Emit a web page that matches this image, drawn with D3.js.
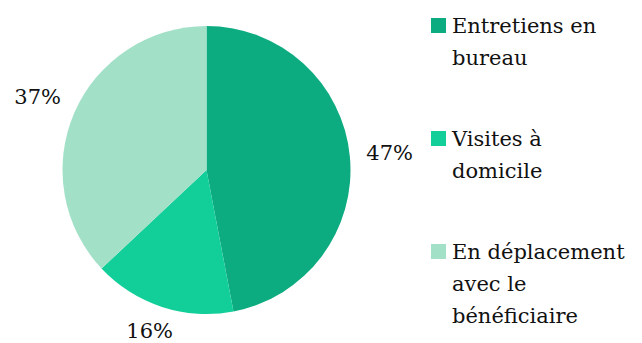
<!DOCTYPE html>
<html><head><meta charset="utf-8">
<script src="https://cdn.jsdelivr.net/npm/d3@7"></script>
<style>html,body{margin:0;padding:0;background:#fff;overflow:hidden}</style>
</head><body>
<svg id="chart" width="642" height="343"></svg>
<script>
const categories = ["Entretiens en bureau", "Visites à domicile", "En déplacement avec le bénéficiaire"];
const legendLines = [["Entretiens en", "bureau"], ["Visites à", "domicile"], ["En déplacement", "avec le", "bénéficiaire"]];
const values = [47, 16, 37];
const labels = ["47%", "16%", "37%"];
const colors = ["#0DAB80", "#12CF9A", "#A3E0C8"];

const svg = d3.select("#chart");
const font = "DejaVu Serif, Liberation Serif, Noto Serif, serif";
const cx = 206.5, cy = 170, R = 144;

const pie = d3.pie().sort(null).value(d => d);
const arcs = pie(values);
const arc = d3.arc().innerRadius(0).outerRadius(R);
const labelArc = d3.arc().innerRadius(184).outerRadius(184);

const g = svg.append("g").attr("transform", `translate(${cx},${cy})`);
g.selectAll("path").data(arcs).join("path")
  .attr("d", arc).attr("fill", (d, i) => colors[i]);

g.selectAll("text").data(arcs).join("text")
  .attr("transform", d => {
    const [x, y] = labelArc.centroid(d);
    return `translate(${x},${Math.min(y, 343 - cy - 12)})`;
  })
  .attr("text-anchor", "middle").attr("dy", "0.35em")
  .attr("font-family", font).attr("font-size", 21).attr("fill", "#111")
  .text((d, i) => labels[i]);

const legend = svg.append("g").attr("transform", "translate(431,18)");
const item = legend.selectAll("g").data(categories).join("g")
  .attr("transform", (d, i) => `translate(0,${i * 113})`);
item.append("rect").attr("width", 15).attr("height", 15)
  .attr("fill", (d, i) => colors[i]);
item.append("text")
  .attr("font-family", font).attr("font-size", 21).attr("fill", "#111")
  .selectAll("tspan").data((d, i) => legendLines[i]).join("tspan")
  .attr("x", 21).attr("y", (d, j) => 15 + j * 32).text(d => d);
</script>
</body></html>
